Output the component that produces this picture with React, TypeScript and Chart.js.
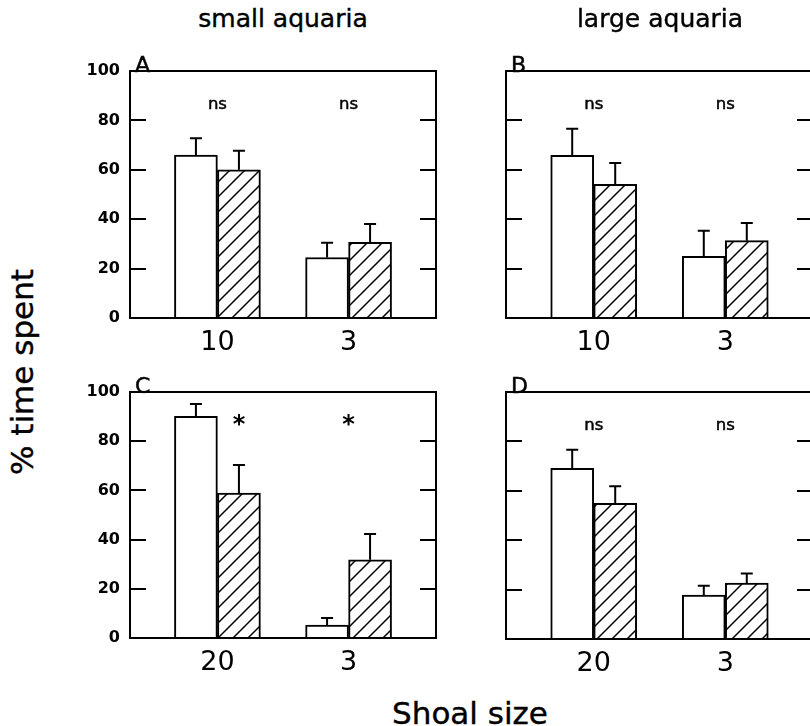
import React, { useEffect, useRef } from 'react';
import { Chart, registerables } from 'chart.js';

Chart.register(...registerables);

// ---- data ----
const shoalSizesTop = ['10', '3'];
const shoalSizesBottom = ['20', '3'];

const aOpen = [66.0, 24.5];
const aOpenErr = [6.8, 6.0];
const aHatched = [60.0, 30.6];
const aHatchedErr = [7.7, 7.5];
const aSig = ['ns', 'ns'];

const bOpen = [65.9, 25.0];
const bOpenErr = [10.7, 10.3];
const bHatched = [54.1, 31.3];
const bHatchedErr = [8.7, 7.2];
const bSig = ['ns', 'ns'];

const cOpen = [90.1, 5.3];
const cOpenErr = [5.0, 2.8];
const cHatched = [58.9, 31.8];
const cHatchedErr = [11.4, 10.5];
const cSig = ['*', '*'];

const dOpen = [69.1, 17.8];
const dOpenErr = [7.5, 3.8];
const dHatched = [54.9, 22.6];
const dHatchedErr = [6.9, 3.9];
const dSig = ['ns', 'ns'];

const yMin = 0;
const yMax = 100;
const yStep = 20;

// ---- layout ----
const SLOTS = 8;
const GROUP_SLOTS = [2, 5];
const FONT = 'DejaVu Sans';

type PanelCfg = {
  letter: string;
  cats: string[];
  open: number[];
  openErr: number[];
  hatched: number[];
  hatchedErr: number[];
  sig: string[];
  sigAnchor: string[];
  showYLabels: boolean;
  left: number;
  top: number;
  w: number;
  h: number;
  area: { left: number; top: number; right: number; bottom: number };
};

const panels: PanelCfg[] = [
  {
    letter: 'A', cats: shoalSizesTop, open: aOpen, openErr: aOpenErr, hatched: aHatched, hatchedErr: aHatchedErr,
    sig: aSig, sigAnchor: ['group', 'group'], showYLabels: true,
    left: 60, top: 40, w: 400, h: 320, area: { left: 130, top: 71, right: 436, bottom: 318 },
  },
  {
    letter: 'B', cats: shoalSizesTop, open: bOpen, openErr: bOpenErr, hatched: bHatched, hatchedErr: bHatchedErr,
    sig: bSig, sigAnchor: ['group', 'group'], showYLabels: false,
    left: 440, top: 40, w: 390, h: 320, area: { left: 506, top: 71, right: 813, bottom: 318 },
  },
  {
    letter: 'C', cats: shoalSizesBottom, open: cOpen, openErr: cOpenErr, hatched: cHatched, hatchedErr: cHatchedErr,
    sig: cSig, sigAnchor: ['hatched', 'group'], showYLabels: true,
    left: 60, top: 361, w: 400, h: 320, area: { left: 130, top: 392, right: 436, bottom: 638 },
  },
  {
    letter: 'D', cats: shoalSizesBottom, open: dOpen, openErr: dOpenErr, hatched: dHatched, hatchedErr: dHatchedErr,
    sig: dSig, sigAnchor: ['group', 'group'], showYLabels: false,
    left: 440, top: 361, w: 390, h: 320, area: { left: 506, top: 392, right: 813, bottom: 639 },
  },
];

function pad<T>(vals: T[]): (T | null)[] {
  const arr: (T | null)[] = new Array(SLOTS).fill(null);
  GROUP_SLOTS.forEach((s, i) => { arr[s] = vals[i]; });
  return arr;
}

const decoPlugin = {
  id: 'panelDeco',
  afterDatasetsDraw(chart: any, _args: any, opts: any) {
    const ctx = chart.ctx as CanvasRenderingContext2D;
    const y = chart.scales.y;
    const x = chart.scales.x;
    const area = chart.chartArea;
    ctx.save();
    // error bars (upper only)
    ctx.strokeStyle = '#000';
    ctx.lineWidth = 2;
    (opts.errors as (number | null)[][]).forEach((errs, di) => {
      const meta = chart.getDatasetMeta(di);
      const data = chart.data.datasets[di].data;
      meta.data.forEach((el: any, i: number) => {
        const v = data[i];
        const e = errs[i];
        if (v == null || e == null) return;
        const topPx = y.getPixelForValue(v + e);
        ctx.beginPath();
        ctx.moveTo(el.x, el.y);
        ctx.lineTo(el.x, topPx);
        ctx.moveTo(el.x - 6, topPx);
        ctx.lineTo(el.x + 6, topPx);
        ctx.stroke();
      });
    });
    // significance labels
    ctx.fillStyle = '#000';
    ctx.strokeStyle = '#000';
    ctx.lineWidth = 0.5;
    ctx.textAlign = 'center';
    ctx.textBaseline = 'alphabetic';
    (opts.sig as string[]).forEach((txt, gi) => {
      const slot = GROUP_SLOTS[gi];
      let px: number;
      if (opts.sigAnchor[gi] === 'hatched') {
        px = chart.getDatasetMeta(1).data[slot].x;
      } else {
        px = x.getPixelForValue(slot);
      }
      if (txt === '*') {
        const size = 24;
        ctx.font = `bold ${size}px ${FONT}`;
        const py = y.getPixelForValue(89.4) + 0.57 * size;
        ctx.fillText(txt, px, py);
      } else {
        ctx.font = `16.5px ${FONT}`;
        const py = y.getPixelForValue(84.5);
        ctx.fillText(txt, px, py);
        ctx.strokeText(txt, px, py);
      }
    });
    // panel letter
    ctx.textAlign = 'left';
    ctx.font = `22px ${FONT}`;
    ctx.fillText(opts.letter, area.left + 5, area.top + 1);
    ctx.strokeText(opts.letter, area.left + 5, area.top + 1);
    ctx.restore();
  },
};

function Panel({ cfg }: { cfg: PanelCfg }) {
  const ref = useRef<HTMLCanvasElement>(null);
  useEffect(() => {
    const canvas = ref.current!;
    const ctx = canvas.getContext('2d')!;
    const tile = document.createElement('canvas');
    tile.width = 15;
    tile.height = 15;
    const t = tile.getContext('2d')!;
    t.fillStyle = '#fff';
    t.fillRect(0, 0, 15, 15);
    t.strokeStyle = '#000';
    t.lineWidth = 1.5;
    t.beginPath();
    t.moveTo(-2, 17); t.lineTo(17, -2);
    t.moveTo(-2, 2); t.lineTo(2, -2);
    t.moveTo(13, 17); t.lineTo(17, 13);
    t.stroke();
    const pattern = ctx.createPattern(tile, 'repeat')!;

    const a = cfg.area;
    const yw = a.left - cfg.left;
    const xh = cfg.top + cfg.h - a.bottom;
    const labels = pad(cfg.cats).map((v) => (v == null ? '' : v));

    const chart = new Chart(canvas, {
      type: 'bar',
      data: {
        labels,
        datasets: [
          {
            data: pad(cfg.open) as any,
            backgroundColor: '#fff',
            borderColor: '#000',
            borderWidth: 2,
            barThickness: 43,
            xAxisID: 'x',
            yAxisID: 'y',
          },
          {
            data: pad(cfg.hatched) as any,
            backgroundColor: pattern as any,
            borderColor: '#000',
            borderWidth: 2,
            barThickness: 43,
            xAxisID: 'x',
            yAxisID: 'y',
          },
        ],
      },
      options: {
        animation: false,
        responsive: false,
        events: [],
        layout: {
          padding: { left: 0, top: a.top - cfg.top, right: cfg.left + cfg.w - a.right, bottom: 0 },
        },
        plugins: {
          legend: { display: false },
          tooltip: { enabled: false },
          panelDeco: {
            errors: [pad(cfg.openErr), pad(cfg.hatchedErr)],
            sig: cfg.sig,
            sigAnchor: cfg.sigAnchor,
            letter: cfg.letter,
          },
        } as any,
        scales: {
          x: {
            type: 'category',
            position: 'bottom',
            offset: false,
            z: 1,
            grid: { display: false, drawTicks: false },
            border: { display: true, color: '#000', width: 2 },
            ticks: {
              autoSkip: false,
              maxRotation: 0,
              minRotation: 0,
              padding: 9,
              color: '#000',
              font: { family: FONT, size: 27 },
            },
            afterFit: (s: any) => { s.height = xh; s.paddingLeft = 0; s.paddingRight = 0; },
          },
          xTop: {
            type: 'category',
            position: 'top',
            offset: false,
            grid: { display: false, drawTicks: false },
            border: { display: true, color: '#000', width: 2 },
            ticks: { display: false },
            afterFit: (s: any) => { s.height = 0; },
          },
          y: {
            type: 'linear',
            position: 'left',
            min: yMin,
            max: yMax,
            ticks: {
              stepSize: yStep,
              display: cfg.showYLabels,
              padding: 26,
              color: '#000',
              font: { family: FONT, size: 16, weight: 'bold' },
            },
            grid: { display: true, drawOnChartArea: false, drawTicks: true, tickLength: -16, color: '#000', lineWidth: 2 },
            border: { display: true, color: '#000', width: 2 },
            afterFit: (s: any) => { s.width = yw; s.paddingTop = 0; s.paddingBottom = 0; },
          },
          yRight: {
            type: 'linear',
            position: 'right',
            min: yMin,
            max: yMax,
            ticks: { stepSize: yStep, display: false },
            grid: { display: true, drawOnChartArea: false, drawTicks: true, tickLength: -16, color: '#000', lineWidth: 2 },
            border: { display: true, color: '#000', width: 2 },
            afterFit: (s: any) => { s.width = 0; s.paddingTop = 0; s.paddingBottom = 0; },
          },
        } as any,
      },
      plugins: [decoPlugin as any],
    });
    return () => chart.destroy();
  }, [cfg]);
  return (
    <div style={{ position: 'absolute', left: cfg.left, top: cfg.top, width: cfg.w, height: cfg.h }}>
      <canvas ref={ref} width={cfg.w} height={cfg.h} />
    </div>
  );
}

export default function App() {
  const textBase: React.CSSProperties = {
    position: 'absolute',
    fontFamily: FONT,
    color: '#000',
    whiteSpace: 'nowrap',
    lineHeight: 1,
    WebkitTextStroke: '0.4px #000',
  };
  return (
    <div
      style={{
        position: 'absolute',
        left: 0,
        top: 0,
        width: 810,
        height: 726,
        overflow: 'hidden',
        background: '#fff',
      }}
    >
      {panels.map((p) => (
        <Panel key={p.letter} cfg={p} />
      ))}
      <div style={{ ...textBase, left: 283, top: 6, fontSize: 25, transform: 'translateX(-50%)' }}>small aquaria</div>
      <div style={{ ...textBase, left: 660, top: 6, fontSize: 25, transform: 'translateX(-50%)' }}>large aquaria</div>
      <div
        style={{
          ...textBase,
          left: 22,
          top: 372,
          fontSize: 31,
          transform: 'translate(-50%, -50%) rotate(-90deg)',
        }}
      >
        % time spent
      </div>
      <div style={{ ...textBase, left: 470, top: 698, fontSize: 31, transform: 'translateX(-50%)' }}>Shoal size</div>
    </div>
  );
}
